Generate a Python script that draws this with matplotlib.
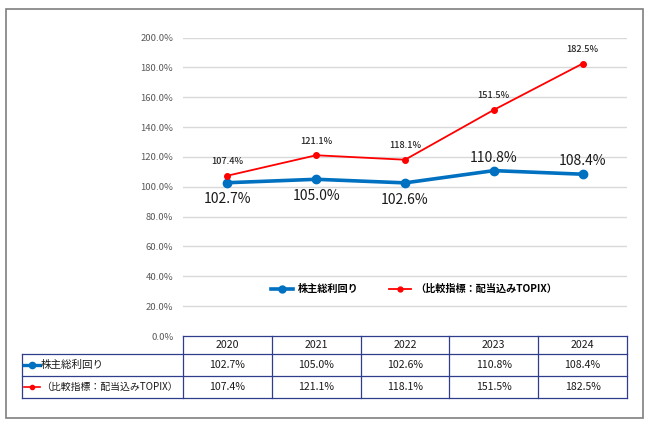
import matplotlib.pyplot as plt
from matplotlib.patches import Rectangle
from matplotlib.lines import Line2D

plt.rcParams['font.family'] = ['Noto Sans CJK JP', 'DejaVu Sans']

years = ["2020", "2021", "2022", "2023", "2024"]
tsr = [102.7, 105.0, 102.6, 110.8, 108.4]
topix = [107.4, 121.1, 118.1, 151.5, 182.5]
tsr_name = "株主総利回り"
topix_name = "（比較指標：配当込みTOPIX）"
yticks = [0, 20, 40, 60, 80, 100, 120, 140, 160, 180, 200]

W, H = 649, 426
BLUE = "#0070C0"
RED = "#FF0000"
NAVY = "#2F3D8C"


def fx(px):
    return px / W


def fy(py):
    return 1 - py / H


fig = plt.figure(figsize=(6.49, 4.26), dpi=100)

# outer frame
fig.add_artist(Rectangle((fx(6), fy(418)), fx(637), (418 - 9) / H,
                         transform=fig.transFigure, fill=False,
                         edgecolor="#7F7F7F", linewidth=1.2))

# main chart area: x 183..627, y 0% at 336, 200% at 37.5
x0, x1 = 183, 627
ytop, ybot = 37.5, 336
ax = fig.add_axes([fx(x0), fy(ybot), fx(x1 - x0), (ybot - ytop) / H])
ax.set_xlim(-0.5, 4.5)
ax.set_ylim(0, 200)
xs = range(len(years))

for v in yticks[1:]:
    ax.axhline(v, color="#D9D9D9", linewidth=1, zorder=0)

ax.plot(xs, tsr, color=BLUE, linewidth=2.6, marker="o", markersize=6, zorder=3)
ax.plot(xs, topix, color=RED, linewidth=1.3, marker="o", markersize=4, zorder=3)

for i, v in enumerate(tsr):
    if i < 3:
        ax.text(i, v - 6.5, f"{v:.1f}%", ha="center", va="top", fontsize=10, color="#1a1a1a")
    else:
        ax.text(i, v + 4, f"{v:.1f}%", ha="center", va="bottom", fontsize=10, color="#1a1a1a")
for i, v in enumerate(topix):
    ax.text(i, v + 6.5, f"{v:.1f}%", ha="center", va="bottom", fontsize=6.6,
            color="#262626", fontweight="medium")

ax.set_yticks(yticks)
ax.set_yticklabels([f"{v:.1f}%" for v in yticks], fontsize=6.8, color="#595959")
ax.tick_params(axis="y", length=0, pad=7)
ax.set_xticks([])
for s in ax.spines.values():
    s.set_visible(False)

handles = [Line2D([], [], color=BLUE, linewidth=2.6, marker="o", markersize=5),
           Line2D([], [], color=RED, linewidth=1.3, marker="o", markersize=3.5)]
ax.legend(handles, [tsr_name, topix_name], loc="center", bbox_to_anchor=(0.52, 0.157),
          ncol=2, frameon=False, handlelength=2.2, columnspacing=3,
          handletextpad=0.4, prop={"weight": "bold", "size": 7.3})

# data table
row_y = [336, 354, 376, 398]
lab_x0 = 22
unit = (x1 - x0) / 5.0
tax = fig.add_axes([fx(lab_x0), fy(398), fx(x1 - lab_x0), (398 - 336) / H])
left = -0.5 - (x0 - lab_x0) / unit
tax.set_xlim(left, 4.5)
tax.set_ylim(398, 336)
tax.axis("off")

lw = 0.9
# horizontal lines
tax.plot([-0.5, 4.5], [336, 336], color=NAVY, linewidth=lw, clip_on=False)
for yy in row_y[1:]:
    tax.plot([left, 4.5], [yy, yy], color=NAVY, linewidth=lw, clip_on=False)
# vertical lines
for k in range(6):
    tax.plot([k - 0.5, k - 0.5], [336, 398], color=NAVY, linewidth=lw, clip_on=False)
tax.plot([left, left], [354, 398], color=NAVY, linewidth=lw, clip_on=False)

fs = 7.6
for i, y in enumerate(years):
    tax.text(i, 345, y, ha="center", va="center", fontsize=fs, color="#1a1a1a")
for i, v in enumerate(tsr):
    tax.text(i, 365, f"{v:.1f}%", ha="center", va="center", fontsize=fs, color="#1a1a1a")
for i, v in enumerate(topix):
    tax.text(i, 387, f"{v:.1f}%", ha="center", va="center", fontsize=fs, color="#1a1a1a")

# row labels with legend keys
k0 = left + 0.02
k1 = k0 + 0.18
tax.plot([k0, k1], [365, 365], color=BLUE, linewidth=2.4, clip_on=False)
tax.plot([(k0 + k1) / 2], [365], color=BLUE, marker="o", markersize=4.5, clip_on=False)
tax.plot([k0, k1], [387, 387], color=RED, linewidth=1.2, clip_on=False)
tax.plot([(k0 + k1) / 2], [387], color=RED, marker="o", markersize=3, clip_on=False)
tax.text(k1 + 0.01, 365, tsr_name, ha="left", va="center", fontsize=fs, color="#1a1a1a")
tax.text(k1 + 0.01, 387, topix_name, ha="left", va="center", fontsize=7.1, color="#1a1a1a")

fig.savefig("out.png", dpi=100)
